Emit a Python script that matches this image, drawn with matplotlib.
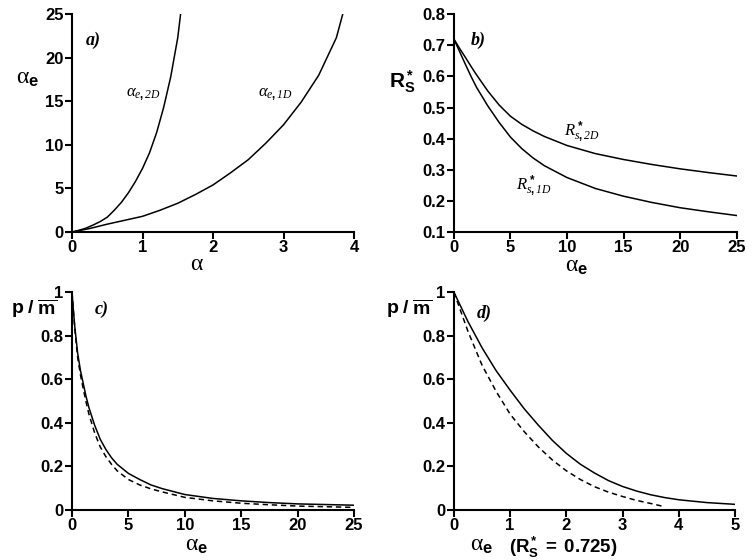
import matplotlib
matplotlib.use("Agg")
import matplotlib.pyplot as plt

plt.rcParams["font.family"] = ["Liberation Sans", "DejaVu Sans"]
plt.rcParams["mathtext.fontset"] = "custom"
plt.rcParams["mathtext.rm"] = "Liberation Sans:bold"
plt.rcParams["mathtext.it"] = "Liberation Serif:italic"
plt.rcParams["mathtext.bf"] = "Liberation Sans:bold"
plt.rcParams["mathtext.sf"] = "Liberation Serif"
plt.rcParams["mathtext.cal"] = "Liberation Serif:italic"

# panel a: alpha_e vs alpha
a_x_1d = [0, 0.25, 0.5, 0.75, 1, 1.25, 1.5, 1.75, 2, 2.25, 2.5, 2.75, 3,
          3.25, 3.5, 3.75, 3.84]
a_y_1d = [0, 0.4, 0.9, 1.35, 1.8, 2.5, 3.3, 4.3, 5.4, 6.8, 8.3, 10.2, 12.3,
          14.9, 18.0, 22.3, 25]
a_x_2d = [0, 0.1, 0.2, 0.3, 0.4, 0.5, 0.6, 0.7, 0.8, 0.9, 1.0, 1.1, 1.2, 1.3,
          1.4, 1.5, 1.54]
a_y_2d = [0, 0.2, 0.45, 0.8, 1.2, 1.7, 2.5, 3.4, 4.5, 5.8, 7.3, 9.1, 11.4,
          14.3, 17.8, 22.3, 25]

# panel b: R*_s vs alpha_e
b_x = [0, 0.5, 1, 1.5, 2, 3, 4, 5, 6, 7, 8, 10, 12.5, 15, 17.5, 20, 22.5, 25]
b_y_2d = [0.72, 0.69, 0.662, 0.633, 0.605, 0.553, 0.508, 0.472, 0.446, 0.425,
          0.407, 0.378, 0.352, 0.333, 0.317, 0.303, 0.291, 0.28]
b_y_1d = [0.72, 0.68, 0.64, 0.601, 0.565, 0.505, 0.452, 0.405, 0.368, 0.338,
          0.313, 0.275, 0.24, 0.215, 0.195, 0.178, 0.165, 0.153]

# panel c: p/m vs alpha_e
c_x = [0, 0.1, 0.25, 0.5, 0.75, 1, 1.25, 1.5, 2, 2.5, 3, 3.5, 4, 5, 6, 7, 8,
       10, 12.5, 15, 17.5, 20, 25]
c_solid = [1.0, 0.93, 0.84, 0.72, 0.64, 0.58, 0.52, 0.47, 0.39, 0.325, 0.278,
           0.24, 0.21, 0.168, 0.14, 0.115, 0.098, 0.071, 0.053, 0.042, 0.034,
           0.028, 0.022]
c_dash = [1.0, 0.93, 0.83, 0.70, 0.62, 0.555, 0.495, 0.44, 0.355, 0.29, 0.245,
          0.21, 0.18, 0.14, 0.115, 0.097, 0.083, 0.058, 0.042, 0.031, 0.024,
          0.018, 0.012]

# panel d: p/m vs alpha_e at R*_s = 0.725
d_x_solid = [0, 0.25, 0.5, 0.75, 1, 1.25, 1.5, 1.75, 2, 2.25, 2.5, 2.75, 3,
             3.25, 3.5, 3.75, 4, 4.5, 5]
d_solid = [1.0, 0.865, 0.745, 0.64, 0.55, 0.465, 0.39, 0.32, 0.26, 0.21, 0.17,
           0.135, 0.108, 0.087, 0.07, 0.057, 0.047, 0.034, 0.026]
d_x_dash = [0, 0.25, 0.5, 0.75, 1, 1.25, 1.5, 1.75, 2, 2.25, 2.5, 2.75, 3,
            3.25, 3.5, 3.7]
d_dash = [1.0, 0.82, 0.665, 0.545, 0.44, 0.36, 0.29, 0.23, 0.18, 0.14, 0.107,
          0.082, 0.062, 0.044, 0.03, 0.018]

fig = plt.figure(figsize=(7.54, 5.6), dpi=100)
axa = fig.add_axes([0.0955, 0.5857, 0.374, 0.389])
axb = fig.add_axes([0.602, 0.5857, 0.375, 0.389])
axc = fig.add_axes([0.0955, 0.0893, 0.374, 0.389])
axd = fig.add_axes([0.602, 0.0893, 0.3727, 0.389])


def style(ax):
    for s in ["top", "right"]:
        ax.spines[s].set_visible(False)
    for s in ["left", "bottom"]:
        ax.spines[s].set_linewidth(1.5)
    ax.tick_params(direction="out", length=5, width=1.5, labelsize=12, pad=1)
    for lab in ax.get_xticklabels() + ax.get_yticklabels():
        lab.set_fontweight("bold")


def ftext(x, y, s, size, **kw):
    # place a label by its pixel position in the 754x560 figure
    fig.text(x / 754, 1 - y / 560, s, fontsize=size, ha="center", va="center", **kw)


ALPHA_E = r"$\mathsf{\alpha}_\mathrm{e}$"
PM = r"$\mathrm{p\ /\ \overline{m}}$"
lw = 1.1
dash = (0, (3.5, 2.5))
panel_kw = dict(family="Liberation Serif", style="italic", weight="bold", fontsize=13)

axa.plot(a_x_2d, a_y_2d, color="black", lw=lw)
axa.plot(a_x_1d, a_y_1d, color="black", lw=lw)
axa.set_xlim(0, 4)
axa.set_ylim(0, 25)
axa.set_xticks([0, 1, 2, 3, 4])
axa.set_yticks([0, 5, 10, 15, 20, 25])
style(axa)
axa.text(0.05, 0.86, "a)", transform=axa.transAxes, **panel_kw)
axa.text(0.19, 0.62, r"$\alpha_{e,\mathcal{2D}}$", transform=axa.transAxes, fontsize=12)
axa.text(0.66, 0.62, r"$\alpha_{e,\mathcal{1D}}$", transform=axa.transAxes, fontsize=12)
ftext(28, 78, ALPHA_E, 17)
ftext(197, 264, r"$\mathsf{\alpha}$", 17)

axb.plot(b_x, b_y_2d, color="black", lw=lw)
axb.plot(b_x, b_y_1d, color="black", lw=lw)
axb.set_xlim(0, 25)
axb.set_ylim(0.1, 0.8)
axb.set_xticks([0, 5, 10, 15, 20, 25])
axb.set_yticks([0.1, 0.2, 0.3, 0.4, 0.5, 0.6, 0.7, 0.8])
style(axb)
axb.text(0.06, 0.86, "b)", transform=axb.transAxes, **panel_kw)
axb.text(0.39, 0.44, r"$R^*_{s,\mathcal{2D}}$", transform=axb.transAxes, fontsize=12)
axb.text(0.22, 0.19, r"$R^*_{s,\mathcal{1D}}$", transform=axb.transAxes, fontsize=12)
ftext(402, 82, r"$\mathrm{R}^*_\mathrm{S}$", 15)
ftext(577, 266, ALPHA_E, 17)

axc.plot(c_x, c_solid, color="black", lw=lw)
axc.plot(c_x, c_dash, color="black", lw=lw, ls=dash)
axc.set_xlim(0, 25)
axc.set_ylim(0, 1)
axc.set_xticks([0, 5, 10, 15, 20, 25])
axc.set_yticks([0, 0.2, 0.4, 0.6, 0.8, 1])
axc.set_yticklabels(["0", "0.2", "0.4", "0.6", "0.8", "1"])
style(axc)
axc.text(0.08, 0.90, "c)", transform=axc.transAxes, **panel_kw)
ftext(34, 309, PM, 14)
ftext(197, 545, ALPHA_E, 17)

axd.plot(d_x_solid, d_solid, color="black", lw=lw)
axd.plot(d_x_dash, d_dash, color="black", lw=lw, ls=dash)
axd.set_xlim(0, 5)
axd.set_ylim(0, 1)
axd.set_xticks([0, 1, 2, 3, 4, 5])
axd.set_yticks([0, 0.2, 0.4, 0.6, 0.8, 1])
axd.set_yticklabels(["0", "0.2", "0.4", "0.6", "0.8", "1"])
style(axd)
axd.text(0.08, 0.88, "d)", transform=axd.transAxes, **panel_kw)
ftext(409, 309, PM, 14)
ftext(482, 545, ALPHA_E, 17)
ftext(563, 547, r"$\mathrm{(R^*_S\ =\ 0.725)}$", 13.5)

fig.savefig("out.png", dpi=100)
